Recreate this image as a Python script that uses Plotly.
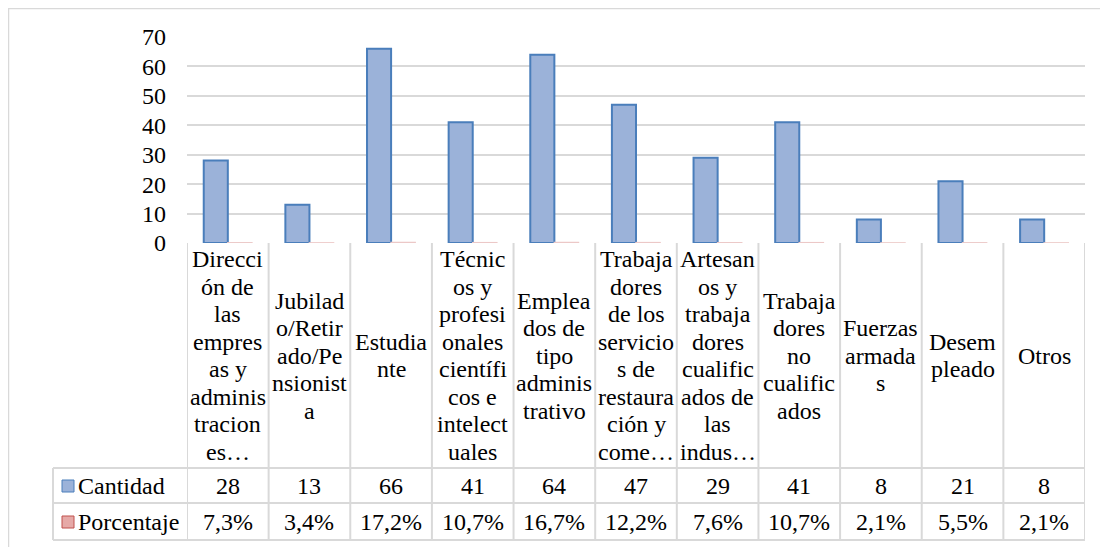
import plotly.graph_objects as go

categories = [
    "Dirección de las empresas y administraciones",
    "Jubilado/Retirado/Pensionista",
    "Estudiante",
    "Técnicos y profesionales científicos e intelectuales",
    "Empleados de tipo administrativo",
    "Trabajadores de los servicios de restauración y comercio",
    "Artesanos y trabajadores cualificados de las industrias",
    "Trabajadores no cualificados",
    "Fuerzas armadas",
    "Desempleado",
    "Otros",
]
category_lines = [
    ["Direcci", "ón de", "las", "empres", "as y", "adminis", "tracion", "es…"],
    ["Jubilad", "o/Retir", "ado/Pe", "nsionist", "a"],
    ["Estudia", "nte"],
    ["Técnic", "os y", "profesi", "onales", "científi", "cos e", "intelect", "uales"],
    ["Emplea", "dos de", "tipo", "adminis", "trativo"],
    ["Trabaja", "dores", "de los", "servicio", "s de", "restaura", "ción y", "come…"],
    ["Artesan", "os y", "trabaja", "dores", "cualific", "ados de", "las", "indus…"],
    ["Trabaja", "dores", "no", "cualific", "ados"],
    ["Fuerzas", "armada", "s"],
    ["Desem", "pleado"],
    ["Otros"],
]
cantidad = [28, 13, 66, 41, 64, 47, 29, 41, 8, 21, 8]
porcentaje = [7.3, 3.4, 17.2, 10.7, 16.7, 12.2, 7.6, 10.7, 2.1, 5.5, 2.1]
y_ticks = [0, 10, 20, 30, 40, 50, 60, 70]

FONT = "Liberation Serif"
FS = 24
GRID = "#d9d9d9"

# page has an 8px body margin; coordinates below are screen pixels
OFF = 8
W, H = 1100, 539
L, R, T, B = 187, 1085, 37, 243          # plot area on screen
PW, PH = R - L, B - T
LINE_H = 27.5


def py(p):
    return (B - p) / PH


def px(p):
    return (p - L) / PW


fig = go.Figure()
fig.add_trace(go.Bar(
    x=categories, y=cantidad, name="Cantidad",
    marker=dict(color="#9bb2d9", line=dict(color="#4a7ebb", width=2)),
))
fig.add_trace(go.Bar(
    x=categories, y=[p / 100 for p in porcentaje], name="Porcentaje",
    marker=dict(color="#e6b0ae", line=dict(color="#ecc8c7", width=1.5)),
))

shapes = []
annotations = []

# outer chart border at the figure edge
shapes.append(dict(type="rect", xref="paper", yref="paper",
                   x0=px(OFF + 0.5), x1=px(OFF + W + 5), y0=py(OFF + 0.5),
                   y1=py(OFF + H + 5),
                   line=dict(color="#d9d9d9", width=1.5), layer="below"))

n = len(categories)
# vertical grid lines of the data table
for i in range(n + 1):
    shapes.append(dict(type="line", xref="x", yref="paper",
                       x0=i - 0.5, x1=i - 0.5, y0=py(B), y1=py(540),
                       line=dict(color=GRID, width=2)))
shapes.append(dict(type="line", xref="paper", yref="paper",
                   x0=px(53), x1=px(53), y0=py(468), y1=py(540),
                   line=dict(color=GRID, width=2)))
# horizontal table lines
for yy in [468, 503, 540]:
    shapes.append(dict(type="line", xref="paper", yref="paper",
                       x0=px(53), x1=1, y0=py(yy), y1=py(yy),
                       line=dict(color=GRID, width=2)))

# header row (category labels), one annotation per wrapped line
cell_mid = (B + 468) / 2
for c, lines in zip(categories, category_lines):
    k = len(lines)
    for j, ln in enumerate(lines):
        yc = cell_mid + (j - (k - 1) / 2) * LINE_H
        annotations.append(dict(x=c, xref="x", y=py(yc), yref="paper",
                                text=ln, showarrow=False, xanchor="center",
                                yanchor="middle",
                                font=dict(family=FONT, size=FS, color="black")))
# value rows
for c, v, p in zip(categories, cantidad, porcentaje):
    annotations.append(dict(x=c, xref="x", y=py(486), yref="paper",
                            text=str(v), showarrow=False, yanchor="middle",
                            font=dict(family=FONT, size=FS, color="black")))
    annotations.append(dict(x=c, xref="x", y=py(522), yref="paper",
                            text=f"{p:.1f}%".replace(".", ","), showarrow=False,
                            yanchor="middle",
                            font=dict(family=FONT, size=FS, color="black")))

# legend keys in the table
for yc, name, fill, edge in [(486, "Cantidad", "#9bb2d9", "#4a7ebb"),
                             (522, "Porcentaje", "#e6a9a7", "#c0504d")]:
    shapes.append(dict(type="rect", xref="paper", yref="paper",
                       x0=px(62), x1=px(74), y0=py(yc - 6), y1=py(yc + 6),
                       fillcolor=fill, line=dict(color=edge, width=1)))
    annotations.append(dict(x=px(76), xref="paper", y=py(yc), yref="paper",
                            text=name, showarrow=False, xanchor="left",
                            yanchor="middle",
                            font=dict(family=FONT, size=FS, color="black")))

fig.update_layout(
    width=W, height=H,
    margin=dict(l=L - OFF, r=OFF + W - R, t=T - OFF, b=OFF + H - B),
    paper_bgcolor="white", plot_bgcolor="white",
    font=dict(family=FONT, size=FS, color="black"),
    barmode="group", bargap=0.41, bargroupgap=0,
    showlegend=False,
    shapes=shapes, annotations=annotations,
    xaxis=dict(showticklabels=False, showgrid=False, showline=False,
               zeroline=False, range=[-0.5, n - 0.5], fixedrange=True),
    yaxis=dict(range=[0, 70], tickvals=y_ticks, showgrid=True, gridcolor=GRID,
               gridwidth=2, zeroline=False, showline=False,
               tickfont=dict(family=FONT, size=FS, color="black"),
               ticks="", ticklabelstandoff=20),
)

fig.write_html("out.html")
